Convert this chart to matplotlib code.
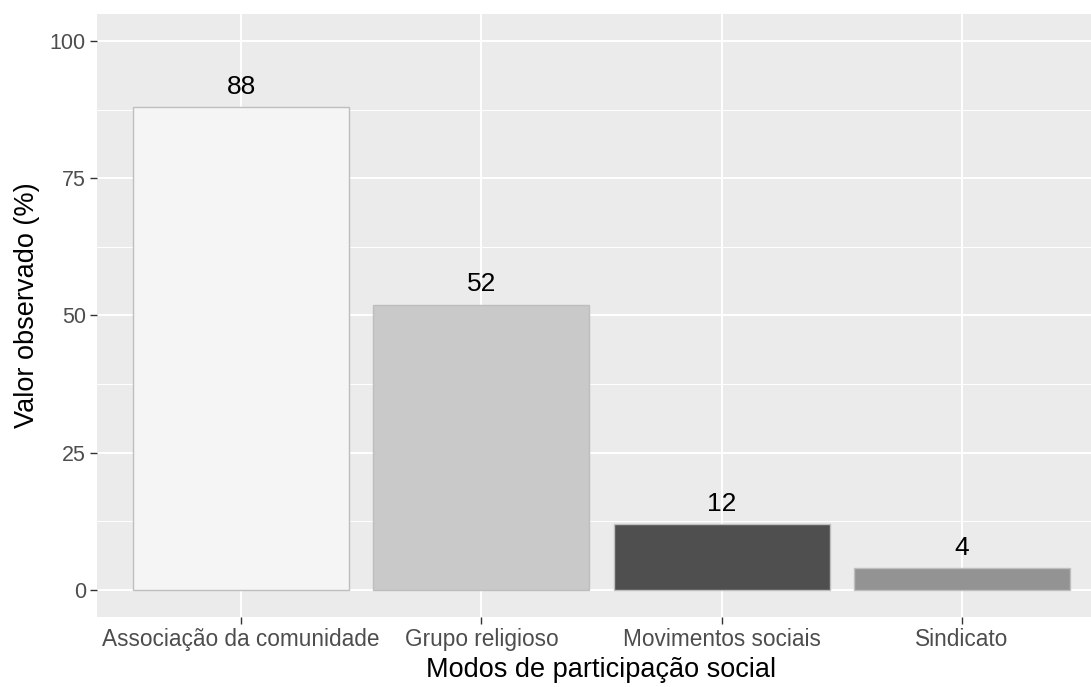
import numpy as np
import matplotlib
matplotlib.use("Agg")
from matplotlib import pyplot as plt

categorias = ["Associação da comunidade", "Grupo religioso", "Movimentos sociais", "Sindicato"]
valores = [88, 52, 12, 4]
cores = ["#F5F5F5", "#C9C9C9", "#4F4F4F", "#939393"]

plt.rcParams['font.family'] = ['Liberation Sans', 'DejaVu Sans']

W, H = 1091, 687
fig = plt.figure(figsize=(W / 100, H / 100), dpi=100)
fig.patch.set_facecolor("white")

# panel runs a bit past the right edge (cropped like the original)
left, right, top, bottom = 97, 1106, 14, 617
ax = fig.add_axes([left / W, 1 - bottom / H, (right - left) / W, (bottom - top) / H])
ax.set_facecolor("#EBEBEB")

x = np.arange(1, len(categorias) + 1)
ax.set_xlim(0.4, len(categorias) + 0.6)
ax.set_ylim(-5, 105)

# grid lines, ggplot style
for v in [12.5, 37.5, 62.5, 87.5]:
    ax.axhline(v, color="white", lw=0.7, zorder=0)
for v in [0, 25, 50, 75, 100]:
    ax.axhline(v, color="white", lw=1.4, zorder=0)
for xi in x:
    ax.axvline(xi, color="white", lw=1.4, zorder=0)

ax.bar(x, valores, width=0.9, color=cores, edgecolor="#BEBEBE", linewidth=1.0, zorder=2)

for xi, v in zip(x, valores):
    ax.annotate(str(v), (xi, v), xytext=(0, 14.5), textcoords="offset points",
                ha="center", va="center", fontsize=19, color="black", zorder=3)

for s in ax.spines.values():
    s.set_visible(False)

ax.set_yticks([0, 25, 50, 75, 100])
ax.set_xticks(x)
ax.set_xticklabels(categorias)
ax.tick_params(axis="both", colors="#333333", length=5, width=1.0, labelsize=15.5,
               labelcolor="#4D4D4D", pad=3)
for lbl in ax.get_xticklabels():
    lbl.set_fontsize(16.3)

fig.text(601 / W, 1 - 670 / H, "Modos de participação social", fontsize=19.5,
         color="black", ha="center", va="center")
fig.text(27 / W, 1 - 305 / H, "Valor observado (%)", fontsize=19.5, rotation=90,
         color="black", ha="center", va="center")

fig.savefig("out.png", dpi=100)
